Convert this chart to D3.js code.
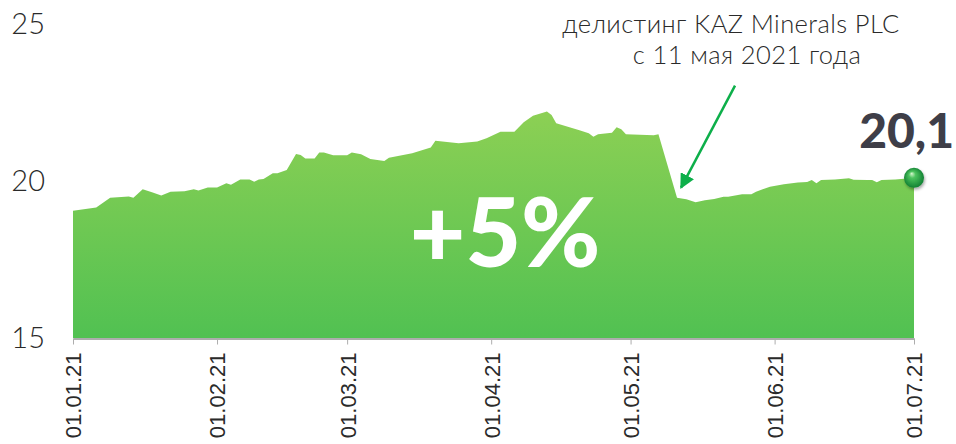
<!DOCTYPE html>
<html>
<head>
<meta charset="utf-8">
<script src="https://cdn.jsdelivr.net/npm/d3@7"></script>
<style>
  body { margin: 0; background: #fff; }
  svg { display: block; }
</style>
</head>
<body>
<svg id="chart" width="956" height="444"></svg>
<script>
var dates = [
  '2021-01-01', '2021-01-06', '2021-01-09', '2021-01-13', '2021-01-14', '2021-01-16',
  '2021-01-18', '2021-01-20', '2021-01-22', '2021-01-25', '2021-01-27', '2021-01-28',
  '2021-01-30', '2021-02-01', '2021-02-03', '2021-02-04', '2021-02-06', '2021-02-08',
  '2021-02-09', '2021-02-10', '2021-02-11', '2021-02-13', '2021-02-14', '2021-02-16',
  '2021-02-18', '2021-02-19', '2021-02-20', '2021-02-22', '2021-02-23', '2021-02-24',
  '2021-02-26', '2021-03-01', '2021-03-02', '2021-03-04', '2021-03-06', '2021-03-09',
  '2021-03-10', '2021-03-15', '2021-03-19', '2021-03-20', '2021-03-25', '2021-03-29',
  '2021-03-31', '2021-04-03', '2021-04-06', '2021-04-08', '2021-04-10', '2021-04-13',
  '2021-04-14', '2021-04-15', '2021-04-20', '2021-04-22', '2021-04-23', '2021-04-24',
  '2021-04-27', '2021-04-28', '2021-04-29', '2021-04-30', '2021-05-06', '2021-05-07',
  '2021-05-11', '2021-05-13', '2021-05-15', '2021-05-17', '2021-05-19', '2021-05-21',
  '2021-05-22', '2021-05-25', '2021-05-27', '2021-05-28', '2021-05-31', '2021-06-03',
  '2021-06-06', '2021-06-08', '2021-06-09', '2021-06-10', '2021-06-11', '2021-06-14',
  '2021-06-17', '2021-06-18', '2021-06-21', '2021-06-22', '2021-06-23', '2021-06-24',
  '2021-06-27', '2021-06-30', '2021-07-01'
];
var prices = [
  19.05, 19.16, 19.47, 19.51, 19.47, 19.74,
  19.64, 19.54, 19.66, 19.67, 19.74, 19.70,
  19.79, 19.79, 19.93, 19.88, 20.05, 20.05,
  19.98, 20.05, 20.06, 20.25, 20.25, 20.35,
  20.86, 20.83, 20.72, 20.72, 20.91, 20.91,
  20.82, 20.82, 20.91, 20.85, 20.70, 20.64,
  20.74, 20.88, 21.07, 21.28, 21.20, 21.26,
  21.36, 21.57, 21.57, 21.87, 22.08, 22.21,
  22.10, 21.84, 21.62, 21.52, 21.41, 21.49,
  21.54, 21.71, 21.65, 21.49, 21.46, 21.49,
  19.47, 19.42, 19.32, 19.39, 19.43, 19.50,
  19.50, 19.58, 19.58, 19.66, 19.82, 19.90,
  19.95, 19.97, 20.03, 19.93, 20.03, 20.05,
  20.09, 20.04, 20.03, 20.03, 19.96, 20.03,
  20.05, 20.09, 20.10
];
var yTicks = [15, 20, 25];
var xTicks = ['2021-01-01', '2021-02-01', '2021-03-01', '2021-04-01', '2021-05-01', '2021-06-01', '2021-07-01'];
var lastLabel = '20,1';
var changeLabel = '+5%';
var noteLines = ['делистинг KAZ Minerals PLC', 'с 11 мая 2021 года'];
var noteDate = '2021-05-11';

var parse = d3.timeParse('%Y-%m-%d');
var data = dates.map(function(d, i) {
  return { date: parse(d), value: prices[i] };
});

var svg = d3.select('#chart');

var x = d3.scaleTime()
  .domain([parse(xTicks[0]), parse(xTicks[xTicks.length - 1])])
  .range([73, 914]);
var y = d3.scaleLinear()
  .domain([15, 25])
  .range([338, 24]);

var defs = svg.append('defs');

var fillGrad = defs.append('linearGradient')
  .attr('id', 'areaFill')
  .attr('gradientUnits', 'userSpaceOnUse')
  .attr('x1', 0).attr('x2', 0)
  .attr('y1', y(22.3)).attr('y2', y(15));
fillGrad.append('stop').attr('offset', '0%').attr('stop-color', '#8dd054');
fillGrad.append('stop').attr('offset', '100%').attr('stop-color', '#51c152');

var ballGrad = defs.append('radialGradient')
  .attr('id', 'ball')
  .attr('cx', '50%').attr('cy', '50%').attr('r', '55%')
  .attr('fx', '38%').attr('fy', '28%');
ballGrad.append('stop').attr('offset', '0%').attr('stop-color', '#d8f7cf');
ballGrad.append('stop').attr('offset', '30%').attr('stop-color', '#4cc35e');
ballGrad.append('stop').attr('offset', '100%').attr('stop-color', '#0c7a2f');

var shadow = defs.append('filter').attr('id', 'shadow')
  .attr('x', '-50%').attr('y', '-50%').attr('width', '200%').attr('height', '200%');
shadow.append('feDropShadow')
  .attr('dx', 1).attr('dy', 2).attr('stdDeviation', 1.5)
  .attr('flood-color', '#000').attr('flood-opacity', 0.35);

defs.append('marker')
  .attr('id', 'arrowHead')
  .attr('viewBox', '0 0 10 10')
  .attr('refX', 9).attr('refY', 5)
  .attr('markerWidth', 6).attr('markerHeight', 6)
  .attr('markerUnits', 'strokeWidth')
  .attr('orient', 'auto')
  .append('path')
  .attr('d', 'M0,0 L10,5 L0,10 z')
  .attr('fill', '#0daf4a');

// area
var area = d3.area()
  .x(function(d) { return x(d.date); })
  .y0(y(15))
  .y1(function(d) { return y(d.value); });

svg.append('path')
  .datum(data)
  .attr('d', area)
  .attr('fill', 'url(#areaFill)');

// x axis
var xAxis = svg.append('g')
  .attr('transform', 'translate(0,' + (y(15) + 0.5) + ')')
  .call(d3.axisBottom(x)
    .tickValues(xTicks.map(parse))
    .tickSize(6)
    .tickSizeOuter(0)
    .tickFormat(d3.timeFormat('%d.%m.%y')));

xAxis.select('.domain').attr('stroke', '#adadad').attr('stroke-width', 2);
xAxis.selectAll('.tick line').attr('stroke', '#adadad').attr('stroke-width', 1);
xAxis.selectAll('.tick text')
  .attr('transform', 'rotate(-90)')
  .attr('text-anchor', 'end')
  .attr('x', -14)
  .attr('y', 0)
  .attr('dy', '0.36em')
  .attr('fill', '#2a2a2a')
  .style('font-family', '"Liberation Sans", Arial, sans-serif')
  .style('font-size', '22px');

// y labels
svg.append('g').selectAll('text')
  .data(yTicks)
  .enter().append('text')
  .attr('x', 45)
  .attr('y', function(d) { return y(d); })
  .attr('dy', '0.36em')
  .attr('text-anchor', 'end')
  .attr('fill', '#2a2a2a')
  .style('font-family', 'Lato, sans-serif')
  .style('font-weight', 300)
  .style('font-size', '29px')
  .text(function(d) { return d; });

// big change label
svg.append('text')
  .attr('x', x(parse('2021-04-04')))
  .attr('y', y(15) - 71)
  .attr('text-anchor', 'middle')
  .attr('fill', '#fff')
  .style('font-family', 'Lato, sans-serif')
  .style('font-weight', 900)
  .style('font-size', '96px')
  .text(changeLabel);

// annotation
var notePoint = data.filter(function(d) { return +d.date === +parse(noteDate); })[0];
var tipX = x(notePoint.date) + 4;
var tipY = y(notePoint.value) - 10;

svg.append('line')
  .attr('x1', tipX + 54).attr('y1', tipY - 102)
  .attr('x2', tipX).attr('y2', tipY)
  .attr('stroke', '#0daf4a')
  .attr('stroke-width', 2.5)
  .attr('marker-end', 'url(#arrowHead)');

svg.append('g').selectAll('text')
  .data(noteLines)
  .enter().append('text')
  .attr('x', function(d, i) { return i === 0 ? 731 : 747; })
  .attr('y', function(d, i) { return 33 + i * 31; })
  .attr('text-anchor', 'middle')
  .attr('fill', '#2a2a2a')
  .style('font-family', 'Lato, sans-serif')
  .style('font-weight', 300)
  .style('font-size', '25.5px')
  .style('letter-spacing', '0.4px')
  .text(function(d) { return d; });

// last value
var last = data[data.length - 1];

svg.append('text')
  .attr('x', x(last.date) + 40)
  .attr('y', y(last.value) - 30)
  .attr('text-anchor', 'end')
  .attr('fill', '#3e3e48')
  .style('font-family', 'Lato, sans-serif')
  .style('font-weight', 900)
  .style('font-size', '48px')
  .text(lastLabel);

svg.append('circle')
  .attr('cx', x(last.date))
  .attr('cy', y(last.value))
  .attr('r', 10)
  .attr('fill', 'url(#ball)')
  .attr('filter', 'url(#shadow)');
</script>
</body>
</html>
